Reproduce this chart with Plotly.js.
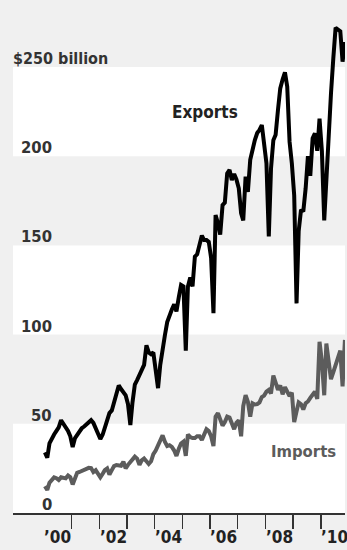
<!DOCTYPE html>
<html>
<head>
<meta charset="utf-8">
<script src="https://cdn.plot.ly/plotly-3.0.1.min.js"></script>
<style>
  html, body { margin: 0; padding: 0; background: #f0f0f0; }
  #chart { width: 347px; height: 550px; }
</style>
</head>
<body>
<div id="chart"></div>
<script>
// Monthly values, Jan 2000 - Nov 2010 (billions of dollars)
const exportsVals = [
  34, 31, 39, 42, 44, 46, 48, 52, 50, 48.5, 46, 43,
  37, 42, 44, 45.5, 47.5, 48.5, 49.5, 50.5, 52, 50.5, 47.5, 45,
  41.5, 44, 48.4, 53, 56, 57.5, 62, 68, 71.5, 69.5, 68, 66,
  61, 49.3, 62, 72, 74.5, 77, 80, 83, 94, 90, 89, 90,
  80, 70, 83, 93, 99.5, 107, 111, 114, 117, 113, 121, 127.8,
  127, 91, 127, 132, 127, 143.7, 145, 151.5, 155.5, 153, 153, 152,
  143, 112, 167, 162.5, 156, 172.6, 174, 190.4, 192.3, 186.7, 190, 187,
  182, 168, 164, 188.5, 180, 198, 204, 209, 213, 214.7, 217.5, 207,
  196, 155, 193, 209, 212, 226, 238, 243, 247, 239, 208, 196,
  178, 117.5, 158, 170, 169, 182, 200, 189, 210, 212.8, 203, 221,
  203, 164, 190, 210, 235, 255, 272, 271, 270, 253, 264
];
const importsVals = [
  15, 13, 17, 18.5, 20, 19.5, 18.5, 20, 19.8, 19.4, 21, 20,
  16, 20, 22.5, 23, 23.5, 24.5, 25, 25.3, 25.2, 23, 24, 22,
  20, 22, 24, 25, 21.5, 24, 26.3, 26.9, 26.5, 26.5, 28.8, 25,
  27, 28.5, 30, 31.6, 30.5, 27, 29.5, 30.5, 29, 27.5, 29, 33,
  35, 37.5, 40.5, 43.5, 40, 37.5, 38, 37, 35, 32, 36, 39,
  40, 32, 44, 42.5, 42, 42, 43, 43, 41, 43.5, 47, 46,
  43, 37.5, 54, 56, 53, 49, 51, 54, 53.5, 50, 47, 50.5,
  52, 43, 60, 66, 62.4, 54, 61.5, 60.8, 61, 62, 65, 65.8,
  68, 69, 67, 77, 72, 69, 71.5, 66.5, 70.5, 68, 65.5, 67.5,
  51, 57, 62, 61, 58, 61.5, 62.5, 64.5, 66, 68, 64, 96,
  85, 66, 95, 85, 75, 79, 83, 87, 91, 71, 97
];
const startYear = 2000;
const yTickVals = [0, 50, 100, 150, 200, 250];
const yTickText = ['0', '50', '100', '150', '200', '$250 billion'];
const yearTickVals = ['2001-01-01','2002-01-01','2003-01-01','2004-01-01','2005-01-01',
                      '2006-01-01','2007-01-01','2008-01-01','2009-01-01','2010-01-01'];
const yearLabelPos = ['2000-07-01','2002-07-01','2004-07-01','2006-07-01','2008-07-01','2010-07-01'];
const yearLabels = ['\u201900','\u201902','\u201904','\u201906','\u201908','\u201910'];
const seriesNames = ['Exports', 'Imports'];

// month dates (mid-month)
const months = exportsVals.map((_, i) => {
  const y = startYear + Math.floor(i / 12);
  const m = (i % 12) + 1;
  return y + '-' + (m < 10 ? '0' + m : m) + '-15';
});

const FONT = '"DejaVu Sans Condensed", "Liberation Sans Narrow", sans-serif';
const BG = '#f0f0f0';

const traces = [
  { x: months, y: importsVals, type: 'scatter', mode: 'lines', name: seriesNames[1],
    line: { color: '#5c5c5c', width: 4, shape: 'linear' }, hoverinfo: 'skip' },
  { x: months, y: exportsVals, type: 'scatter', mode: 'lines', name: seriesNames[0],
    line: { color: '#000000', width: 4, shape: 'linear' }, hoverinfo: 'skip' }
];

const shapes = [];
for (let i = 0; i < yTickVals.length - 1; i += 2) {
  shapes.push({ type: 'rect', xref: 'paper', yref: 'y', x0: 0, x1: 1,
    y0: yTickVals[i], y1: yTickVals[i + 1], fillcolor: '#ffffff', line: { width: 0 }, layer: 'below' });
}

const annotations = [];
yTickVals.forEach((v, i) => {
  if (i === yTickVals.length - 1) {
    annotations.push({ xref: 'paper', yref: 'y', x: 0, y: v, xanchor: 'left', yanchor: 'bottom',
      text: yTickText[i], showarrow: false, xshift: -2, yshift: -3,
      font: { family: FONT, size: 16, color: '#333333', weight: 'bold' } });
  } else {
    annotations.push({ xref: 'paper', yref: 'y', x: 0.1175, y: v, xanchor: 'right', yanchor: 'bottom',
      text: yTickText[i], showarrow: false, xshift: 2, yshift: -3,
      font: { family: FONT, size: 16.5, color: '#333333', weight: 'bold' } });
  }
});
yearLabelPos.forEach((d, i) => {
  annotations.push({ xref: 'x', yref: 'paper', x: d, y: -0.048, xanchor: 'center', yanchor: 'middle',
    text: yearLabels[i], showarrow: false,
    font: { family: FONT, size: 17, color: '#222222', weight: 'bold' } });
});
annotations.push({ xref: 'paper', yref: 'y', x: 0.578, y: 224.8, xanchor: 'center', yanchor: 'middle',
  text: seriesNames[0], showarrow: false, font: { family: FONT, size: 17, color: '#222222', weight: 'bold' } });
annotations.push({ xref: 'paper', yref: 'y', x: 0.875, y: 34.2, xanchor: 'center', yanchor: 'middle',
  text: seriesNames[1], showarrow: false, font: { family: FONT, size: 16.5, color: '#5c5c5c', weight: 'bold' } });

const layout = {
  width: 347, height: 550,
  margin: { l: 13, r: 2, t: 10, b: 37, pad: 0 },
  paper_bgcolor: BG, plot_bgcolor: BG,
  showlegend: false,
  xaxis: {
    type: 'date', range: ['1998-11-20', '2010-11-16'],
    tickmode: 'array', tickvals: yearTickVals, showticklabels: false,
    ticks: 'outside', ticklen: 14, tickwidth: 1.5, tickcolor: '#333333',
    showgrid: false, zeroline: false,
    showline: true, linecolor: '#333333', linewidth: 1.5, fixedrange: true
  },
  yaxis: {
    range: [0, 281.95], showticklabels: false, ticks: '', showgrid: false,
    zeroline: false, showline: false, fixedrange: true
  },
  shapes: shapes,
  annotations: annotations
};

Plotly.newPlot('chart', traces, layout, { staticPlot: true, displayModeBar: false });
</script>
</body>
</html>
